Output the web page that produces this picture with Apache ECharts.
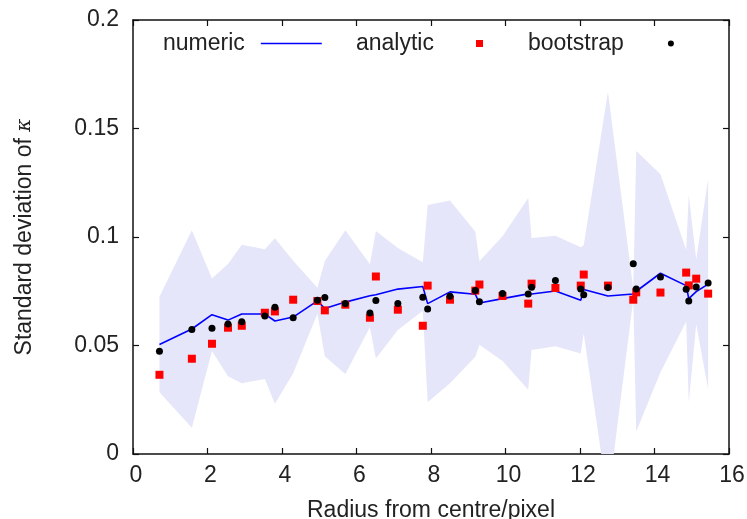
<!DOCTYPE html>
<html>
<head>
<meta charset="utf-8">
<script src="https://cdn.jsdelivr.net/npm/echarts@6/dist/echarts.min.js"></script>
<style>
  html, body { margin: 0; padding: 0; background: #fff; }
  #chart { width: 747px; height: 519px; }
</style>
</head>
<body>
<div id="chart"></div>
<script>
// Radius of each annulus (pixels)
const radius = [0.71, 1.58, 2.12, 2.55, 2.92, 3.54, 3.81, 4.30, 4.95, 5.15,
  5.70, 6.36, 6.52, 7.11, 7.78, 7.91, 8.51, 9.19, 9.30, 9.92,
  10.61, 10.70, 11.34, 12.02, 12.10, 12.75, 13.43, 13.51, 14.16, 14.85,
  14.92, 15.12, 15.44];

// Numerically estimated standard deviation of kappa
const numeric = [0.0505, 0.0576, 0.0642, 0.0617, 0.0645, 0.0645, 0.0613, 0.0631, 0.0706, 0.0670,
  0.0700, 0.0729, 0.0734, 0.0760, 0.0772, 0.0693, 0.0747, 0.0736, 0.0696, 0.0716,
  0.0738, 0.0737, 0.0751, 0.0708, 0.0758, 0.0728, 0.0737, 0.0750, 0.0833, 0.0776,
  0.0716, 0.0748, 0.0783];

// Spread (one sigma) of the numeric estimate, drawn as the shaded band
const numericSpread = [0.0220, 0.0455, 0.0167, 0.0259, 0.0319, 0.0299, 0.0381, 0.0259, 0.0060, 0.0219,
  0.0331, 0.0145, 0.0294, 0.0189, 0.0112, 0.0454, 0.0421, 0.0288, 0.0192, 0.0288,
  0.0442, 0.0258, 0.0255, 0.0245, 0.0204, 0.0941, 0.0025, 0.0646, 0.0456, 0.0165,
  0.0477, 0.0150, 0.0485];

// Analytic prediction
const analytic = [0.0365, 0.0439, 0.0508, 0.0582, 0.0591, 0.0651, 0.0657, 0.0711, 0.0705, 0.0662,
  0.0688, 0.0628, 0.0818, 0.0665, 0.0591, 0.0776, 0.0711, 0.0753, 0.0781, 0.0728,
  0.0693, 0.0785, 0.0765, 0.0776, 0.0827, 0.0776, 0.0711, 0.0745, 0.0744, 0.0836,
  0.0777, 0.0808, 0.0739];

// Bootstrap estimate
const bootstrap = [0.0473, 0.0574, 0.0580, 0.0599, 0.0610, 0.0636, 0.0676, 0.0628, 0.0708, 0.0721,
  0.0694, 0.0650, 0.0707, 0.0694, 0.0722, 0.0668, 0.0727, 0.0754, 0.0702, 0.0740,
  0.0737, 0.0768, 0.0799, 0.0760, 0.0734, 0.0767, 0.0877, 0.0760, 0.0816, 0.0759,
  0.0705, 0.0770, 0.0788];

const xTicks = { min: 0, max: 16, interval: 2 };
const yTicks = { min: 0, max: 0.2, interval: 0.05 };

const FONT = 'Liberation Sans';
const TEXT = '#222222';

const pair = (ys) => radius.map((r, i) => [r, ys[i]]);
// [radius, lower edge, upper edge] of the one-sigma band
const band = radius.map((r, i) => [r, numeric[i] - numericSpread[i], numeric[i] + numericSpread[i]]);

// Shaded band: one polygon through the upper edge, back along the lower edge
function renderBand(params, api) {
  if (params.dataIndex !== 0) return null;
  const upper = band.map(d => api.coord([d[0], d[2]]));
  const lower = band.map(d => api.coord([d[0], d[1]])).reverse();
  const cs = params.coordSys;
  return {
    type: 'group',
    clipPath: { type: 'rect', shape: { x: cs.x, y: cs.y, width: cs.width, height: cs.height } },
    children: [{
      type: 'polygon',
      shape: { points: upper.concat(lower) },
      style: { fill: '#e6e6fa', stroke: null }
    }]
  };
}

const frameLine = { show: true, onZero: false, lineStyle: { color: '#111', width: 1.5 } };
const frameTick = { show: true, inside: true, length: 6, lineStyle: { color: '#111', width: 1.2 } };
const legendText = (padRight) => ({ fontFamily: FONT, fontSize: 23, color: TEXT, padding: [0, padRight, 0, 0] });

const chart = echarts.init(document.getElementById('chart'), null, { renderer: 'canvas' });

chart.setOption({
  animation: false,
  backgroundColor: '#fff',
  grid: { left: 133, right: 18, top: 20, bottom: 65, containLabel: false, outerBoundsMode: 'none' },
  legend: [
    {
      data: [{ name: 'numeric', icon: 'rect' }], left: 163, top: 32, padding: 0, align: 'right',
      itemWidth: 61, itemHeight: 1.6, textStyle: legendText(11)
    },
    {
      data: [{ name: 'analytic', icon: 'rect' }], left: 356, top: 32, padding: 0, align: 'right',
      itemWidth: 7, itemHeight: 7, textStyle: legendText(37)
    },
    {
      data: [{ name: 'bootstrap', icon: 'circle' }], left: 528, top: 32, padding: 0, align: 'right',
      itemWidth: 6, itemHeight: 6, textStyle: legendText(39)
    }
  ],
  xAxis: [
    {
      type: 'value', position: 'bottom', ...xTicks,
      name: 'Radius from centre/pixel', nameLocation: 'middle', nameGap: 45,
      nameTextStyle: { fontFamily: FONT, fontSize: 23, color: TEXT },
      axisLine: frameLine, axisTick: frameTick,
      axisLabel: { fontFamily: FONT, fontSize: 23, color: TEXT, margin: 10, padding: [0, 0, 0, 6] },
      splitLine: { show: false }
    },
    {
      type: 'value', position: 'top', ...xTicks,
      axisLine: frameLine, axisTick: frameTick,
      axisLabel: { show: false }, splitLine: { show: false }
    }
  ],
  yAxis: [
    {
      type: 'value', position: 'left', ...yTicks,
      name: 'Standard deviation of {k|κ}', nameLocation: 'middle', nameGap: 97,
      nameTextStyle: {
        fontFamily: FONT, fontSize: 23, color: TEXT,
        rich: { k: { fontFamily: 'DejaVu Serif', fontStyle: 'italic', fontSize: 20, color: TEXT } }
      },
      axisLine: frameLine, axisTick: frameTick,
      axisLabel: { fontFamily: FONT, fontSize: 23, color: TEXT, margin: 14 },
      splitLine: { show: false }
    },
    {
      type: 'value', position: 'right', ...yTicks,
      axisLine: frameLine, axisTick: frameTick,
      axisLabel: { show: false }, splitLine: { show: false }
    }
  ],
  series: [
    {
      name: 'band', type: 'custom', data: band, renderItem: renderBand,
      encode: { x: 0, y: [1, 2] }, silent: true, z: 1
    },
    {
      name: 'numeric', type: 'line', data: pair(numeric), symbol: 'none', z: 2,
      lineStyle: { color: '#0000ff', width: 1.6 }, itemStyle: { color: '#0000ff' }
    },
    {
      name: 'analytic', type: 'scatter', data: pair(analytic), symbol: 'rect', symbolSize: 8, z: 3,
      itemStyle: { color: '#ff0000', opacity: 1 }
    },
    {
      name: 'bootstrap', type: 'scatter', data: pair(bootstrap), symbol: 'circle', symbolSize: 7, z: 4,
      itemStyle: { color: '#000000', opacity: 1 }
    }
  ]
});
</script>
</body>
</html>
